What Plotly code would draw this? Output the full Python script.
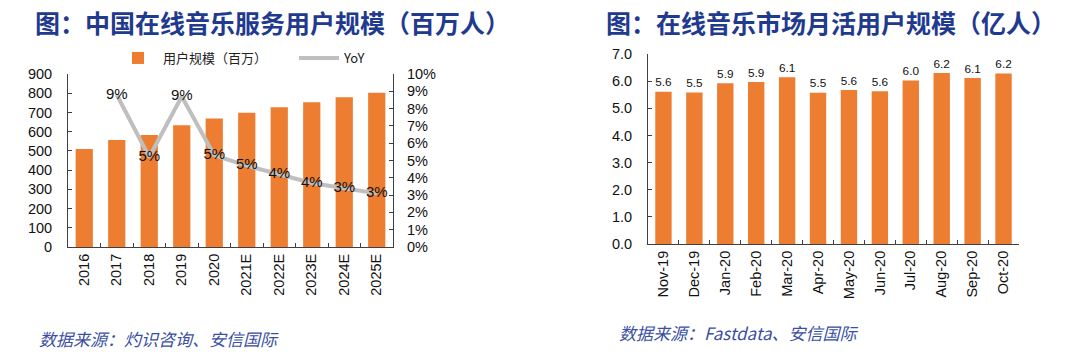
import plotly.graph_objects as go

# Left chart data
years = ["2016", "2017", "2018", "2019", "2020", "2021E", "2022E", "2023E", "2024E", "2025E"]
users = [510, 557, 583, 633, 668, 699, 727, 753, 779, 803]
yoy_years = ["2017", "2018", "2019", "2020", "2021E", "2022E", "2023E", "2024E", "2025E"]
yoy = [0.088, 0.052, 0.087, 0.053, 0.047, 0.042, 0.037, 0.034, 0.031]
yoy_labels = ["9%", "5%", "9%", "5%", "5%", "4%", "4%", "3%", "3%"]

# Right chart data
months = ["Nov-19", "Dec-19", "Jan-20", "Feb-20", "Mar-20", "Apr-20", "May-20", "Jun-20",
          "Jul-20", "Aug-20", "Sep-20", "Oct-20"]
mau = [5.61, 5.58, 5.92, 5.97, 6.14, 5.57, 5.67, 5.63, 6.02, 6.30, 6.12, 6.28]
mau_labels = ["5.6", "5.5", "5.9", "5.9", "6.1", "5.5", "5.6", "5.6", "6.0", "6.2", "6.1", "6.2"]

ORANGE = "#ED7D31"
GRAY = "#BFBFBF"
TITLE_BLUE = "#1F3A8F"
SRC_BLUE = "#3A4FA3"
AX = "#404040"
FONT = "Liberation Sans, Arial, Noto Sans CJK SC, sans-serif"
CJK = "Noto Sans CJK SC, sans-serif"

W, H = 1080, 363

def px_x(v):
    return v / W

def px_y(v):
    return 1 - v / H

fig = go.Figure()

fig.add_trace(go.Bar(
    x=years, y=users, name="用户规模（百万）", marker=dict(color=ORANGE, line=dict(width=0)),
    xaxis="x", yaxis="y", showlegend=True,
))
fig.add_trace(go.Scatter(
    x=yoy_years, y=yoy, name="YoY", mode="lines+text", text=yoy_labels,
    textposition="middle center", textfont=dict(size=15, color="#111", family=FONT),
    line=dict(color=GRAY, width=4), xaxis="x", yaxis="y2", showlegend=True, cliponaxis=False,
))
fig.add_trace(go.Bar(
    x=months, y=mau, text=mau_labels, textposition="outside", cliponaxis=False,
    textfont=dict(size=15, color="#111", family=FONT),
    marker=dict(color=ORANGE, line=dict(width=0)), xaxis="x3", yaxis="y3", showlegend=False,
))

axis_common = dict(showline=True, linecolor=AX, linewidth=1, ticks="inside", tickcolor=AX,
                   ticklen=4, showgrid=False, zeroline=False, automargin=False,
                   tickfont=dict(size=14.5, color="#111", family=FONT))

fig.update_layout(
    template="none",
    width=W, height=H, margin=dict(l=0, r=0, t=0, b=0, pad=0), autosize=False,
    paper_bgcolor="white", plot_bgcolor="white",
    bargap=0.47,
    font=dict(family=FONT, size=14, color="#111"),
    xaxis=dict(domain=[px_x(68), px_x(393)], anchor="y", type="category",
               tickson="boundaries", tickangle=-90, **axis_common),
    yaxis=dict(domain=[px_y(247), px_y(74)], anchor="x", range=[0, 900], dtick=100,
               ticklabelstandoff=12, **axis_common),
    yaxis2=dict(overlaying="y", side="right", anchor="x", range=[0, 0.10], dtick=0.01,
                tickformat=".0%", ticklabelstandoff=10, **axis_common),
    xaxis3=dict(domain=[px_x(648), px_x(1019)], anchor="y3", type="category",
                tickson="boundaries", tickangle=-90, **axis_common),
    yaxis3=dict(domain=[px_y(244), px_y(54)], anchor="x3", range=[0, 7], dtick=1,
                tickformat=".1f", ticklabelstandoff=12, **axis_common),
    legend=dict(orientation="h", x=px_x(113), y=px_y(58), xanchor="left", yanchor="middle",
                font=dict(size=13, family=CJK, color="#222"), itemwidth=40,
                bgcolor="rgba(0,0,0,0)", tracegroupgap=0, entrywidth=126),
    annotations=[
        dict(text="图：中国在线音乐服务用户规模（百万人）", x=px_x(272), y=px_y(22),
             xref="paper", yref="paper", showarrow=False, xanchor="center", yanchor="middle",
             font=dict(size=25, family=CJK, color=TITLE_BLUE, weight="bold")),
        dict(text="图：在线音乐市场月活用户规模（亿人）", x=px_x(831), y=px_y(22),
             xref="paper", yref="paper", showarrow=False, xanchor="center", yanchor="middle",
             font=dict(size=25, family=CJK, color=TITLE_BLUE, weight="bold")),
        dict(text="数据来源：灼识咨询、安信国际", x=px_x(37), y=px_y(338),
             xref="paper", yref="paper", showarrow=False, xanchor="left", yanchor="middle",
             font=dict(size=17, family=CJK, color=SRC_BLUE, style="italic")),
        dict(text="数据来源：Fastdata、安信国际", x=px_x(617), y=px_y(332),
             xref="paper", yref="paper", showarrow=False, xanchor="left", yanchor="middle",
             font=dict(size=17, family=CJK, color=SRC_BLUE, style="italic")),
    ],
)

fig.write_html(
    "out.html",
    config={"displayModeBar": False},
    post_script="document.body.style.margin='0';document.body.style.overflow='hidden';",
)
